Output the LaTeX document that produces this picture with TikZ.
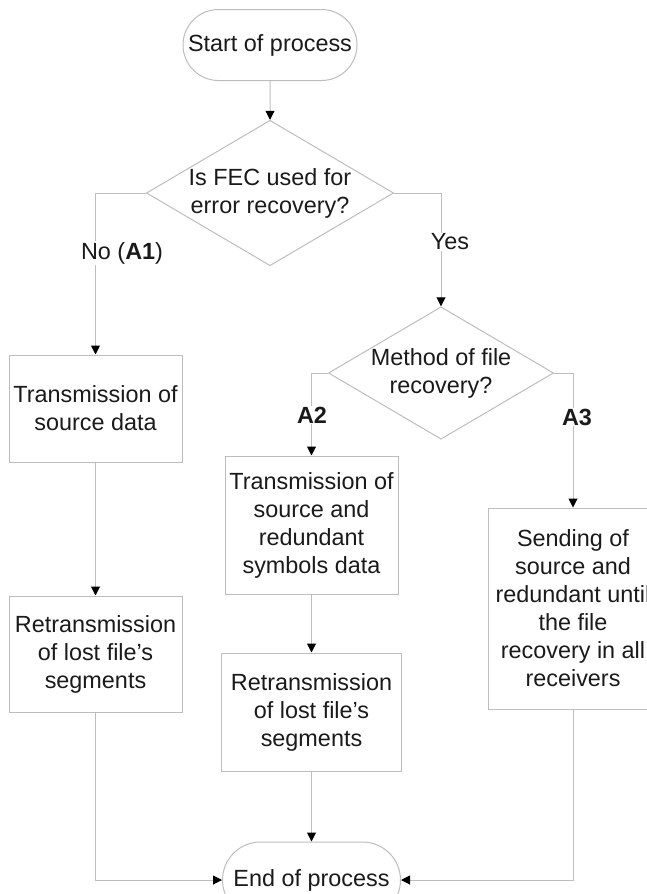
\documentclass[tikz,border=0pt]{standalone}
\usepackage{fontspec}
\setmainfont{Liberation Sans}
\usetikzlibrary{shapes.geometric,shapes.misc,arrows.meta}
\definecolor{fcline}{HTML}{BDBDBD}
\definecolor{fctext}{HTML}{1A1A1A}

\begin{document}
\begin{tikzpicture}[x=1pt, y=-1pt,
        every node/.style={font=\fontsize{23.4}{28}\selectfont, text=fctext},
        term/.style={
          draw=fcline, line width=1pt, rounded rectangle,
          fill=white, inner sep=0pt,
        },
        dec/.style={
          draw=fcline, line width=1pt, diamond, aspect=1.7,
          inner sep=0pt, align=center,
        },
        proc/.style={
          draw=fcline, line width=1pt, rectangle,
          inner sep=0pt, align=center,
        },
        arr/.style={draw=fcline, line width=1pt, -{Triangle[color=black, width=9pt, length=9pt]}},
        lbl/.style={fill=white, inner sep=1pt},
      ]
      \useasboundingbox (0,0) rectangle (647,894);
      % terminals and decisions
      \node[term, minimum width=174pt, minimum height=71pt] (start) at (270,45) {Start of process};
      \node[dec, minimum width=246pt, minimum height=142pt] (fec) at (270,193) {Is FEC used for\\error recovery?};
      \node[dec, minimum width=214pt, minimum height=128pt] (meth) at (441,373) {Method of file\\recovery?};
      \node[term, minimum width=178pt, minimum height=76pt] (end) at (311.5,880) {End of process};
      % process boxes
      \node[proc, minimum width=173pt, minimum height=107pt] (src) at (95.5,408.5) {Transmission of\\source data};
      \node[proc, minimum width=173pt, minimum height=116pt] (rtx1) at (95.5,654) {Retransmission\\of lost file’s\\segments};
      \node[proc, minimum width=173pt, minimum height=138pt] (red) at (311.5,525) {Transmission of\\source and\\redundant\\symbols data};
      \node[proc, minimum width=180pt, minimum height=118pt] (rtx2) at (311.5,712) {Retransmission\\of lost file’s\\segments};
      \node[proc, minimum width=170pt, minimum height=201pt] (send) at (573,608.5) {Sending of\\source and\\redundant until\\the file\\recovery in all\\receivers};
      % connectors
      \draw[arr] (start) -- (fec);
      \draw[arr] (fec.west) -| (src.north);
      \draw[arr] (fec.east) -| (meth.north);
      \draw[arr] (meth.west) -| (red.north);
      \draw[arr] (meth.east) -| (send.north);
      \draw[arr] (src) -- (rtx1);
      \draw[arr] (red) -- (rtx2);
      \draw[arr] (rtx2) -- (end);
      \draw[arr] (rtx1.south) |- (end.west);
      \draw[arr] (send.south) |- (end.east);
      % branch labels
      \node[lbl] (lno) at (122,253) {No (\textbf{A1})};
      \node[lbl] (lyes) at (450,242) {Yes};
      \node[lbl] (la2) at (312,415) {\textbf{A2}};
      \node[lbl] (la3) at (577,417) {\textbf{A3}};
    \end{tikzpicture}
\end{document}
